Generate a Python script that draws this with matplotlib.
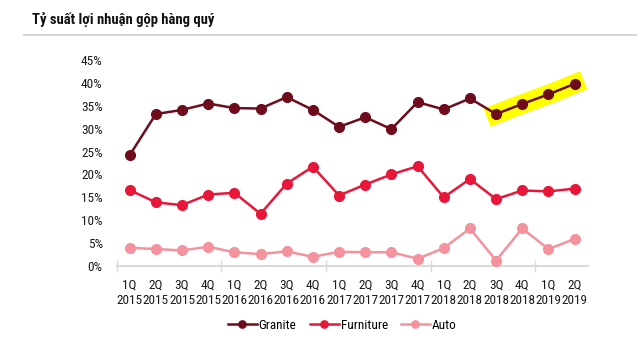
import matplotlib
matplotlib.use("Agg")
import matplotlib.pyplot as plt

# quarterly gross margin, %
quarters = ["1Q", "2Q", "3Q", "4Q"] * 4 + ["1Q", "2Q"]
years = ["2015"] * 4 + ["2016"] * 4 + ["2017"] * 4 + ["2018"] * 4 + ["2019"] * 2
granite = [24.2, 33.2, 34.1, 35.5, 34.5, 34.4, 36.9, 34.1, 30.4,
           32.5, 29.9, 35.8, 34.2, 36.6, 33.2, 35.4, 37.5, 39.8]
furniture = [16.6, 13.9, 13.3, 15.6, 16.0, 11.4, 18.0, 21.7, 15.4,
             17.8, 20.0, 21.8, 15.0, 19.0, 14.6, 16.5, 16.3, 16.9]
auto = [4.0, 3.7, 3.4, 4.2, 3.0, 2.6, 3.2, 2.0, 3.1,
        3.0, 3.0, 1.6, 3.9, 8.2, 1.2, 8.2, 3.7, 5.9]
y_ticks = [0, 5, 10, 15, 20, 25, 30, 35, 40, 45]
highlight_start = 14  # 3Q 2018 onwards

plt.rcParams["font.family"] = ["Roboto Condensed", "Archivo Narrow",
                               "Liberation Sans", "DejaVu Sans"]

fig = plt.figure(figsize=(6.37, 3.45), dpi=100)
ax = fig.add_axes([0.183, 0.229, 0.7396, 0.597])

x = list(range(len(granite)))

# yellow highlight behind the latest quarters
ax.plot(x[highlight_start:], granite[highlight_start:], color="#ffff00",
        linewidth=14, solid_capstyle="projecting", zorder=1)

styles = [
    ("Granite", granite, "#6e0b1c"),
    ("Furniture", furniture, "#e8173a"),
    ("Auto", auto, "#f4929e"),
]
for label, values, color in styles:
    ax.plot(x, values, color=color, linewidth=1.8, marker="o", markersize=7,
            markeredgecolor=color, label=label, zorder=3)

ax.set_xlim(-0.5, len(granite) - 0.5)
ax.set_ylim(0, 45)
ax.set_yticks(y_ticks)
ax.set_yticklabels([f"{v}%" for v in y_ticks], fontsize=9.5, color="#1a1a1a")

ax.set_xticks(x)
ax.set_xticklabels([f"{q}\n{y}" for q, y in zip(quarters, years)],
                   fontsize=9.5, color="#1a1a1a", linespacing=1.25)
ax.set_xticks([-0.5, 3.5, 7.5, 11.5, 15.5], minor=True)
ax.tick_params(axis="x", which="major", length=0, pad=9)
ax.tick_params(axis="x", which="minor", length=9, direction="inout",
               color="#d9d9d9", width=1)
ax.tick_params(axis="y", length=0, pad=10)

for side in ("top", "right", "left"):
    ax.spines[side].set_visible(False)
ax.spines["bottom"].set_color("#d9d9d9")
ax.spines["bottom"].set_linewidth(1.5)

fig.text(0.05, 0.965, "Tỷ suất lợi nhuận gộp hàng quý", fontsize=10.5,
         fontweight="bold", color="#111111", ha="left", va="top")
fig.add_artist(plt.Line2D([0.037, 1.0], [0.9, 0.9], color="#cccccc",
                          linewidth=1.2, transform=fig.transFigure))

fig.legend(loc="center", bbox_to_anchor=(0.537, 0.057), ncol=3, frameon=False,
           fontsize=9.5, handlelength=2.2, handletextpad=0.15, columnspacing=1.0,
           markerscale=0.75)

fig.savefig("out.png", dpi=100)
